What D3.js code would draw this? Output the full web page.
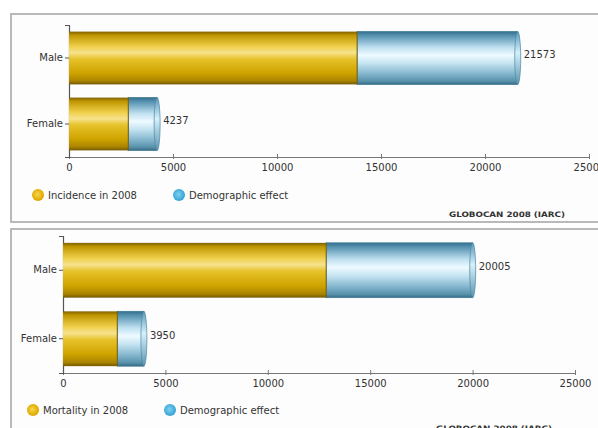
<!DOCTYPE html>
<html>
<head>
<meta charset="utf-8">
<script src="https://cdn.jsdelivr.net/npm/d3@7/dist/d3.min.js"></script>
<style>
  html, body { margin: 0; padding: 0; background: #ffffff; }
  svg { display: block; }
  text { font-family: "DejaVu Sans", Verdana, sans-serif; fill: #333; }
</style>
</head>
<body>
<svg id="chart" width="598" height="428"></svg>
<script>
// Sexes shown on each panel
const categories = ["Male", "Female"];

// Incidence panel: cases in 2008 and projected total incl. demographic effect
const incidence2008 = [13850, 2850];
const incidenceTotal = [21573, 4237];

// Mortality panel: deaths in 2008 and projected total incl. demographic effect
const mortality2008 = [12850, 2650];
const mortalityTotal = [20005, 3950];

const xTicks = [0, 5000, 10000, 15000, 20000, 25000];
const xMax = 25000;

const svg = d3.select("#chart");
const defs = svg.append("defs");

// Cylinder-style shading for the two series
function vGradient(id, stops) {
  const g = defs.append("linearGradient").attr("id", id)
    .attr("x1", 0).attr("y1", 0).attr("x2", 0).attr("y2", 1);
  stops.forEach(s => g.append("stop").attr("offset", s[0]).attr("stop-color", s[1]));
}
vGradient("gold", [
  [0, "#7f6200"], [0.07, "#bf9600"], [0.28, "#efcf4a"], [0.4, "#f6e28c"],
  [0.52, "#e6c22a"], [0.78, "#cfa400"], [0.93, "#ac8500"], [1, "#745900"]
]);
vGradient("blue", [
  [0, "#35708e"], [0.08, "#5893b1"], [0.3, "#bfe0f0"], [0.45, "#eefaff"],
  [0.6, "#c5e4f2"], [0.82, "#7db1c9"], [0.94, "#5890aa"], [1, "#366b86"]
]);
vGradient("blueCap", [
  [0, "#5a98b8"], [0.4, "#d6f0fb"], [1, "#5a94b0"]
]);
const rg1 = defs.append("radialGradient").attr("id", "legGold").attr("cx", "45%").attr("cy", "45%");
rg1.append("stop").attr("offset", 0).attr("stop-color", "#f5d84a");
rg1.append("stop").attr("offset", 1).attr("stop-color", "#e0a800");
const rg2 = defs.append("radialGradient").attr("id", "legBlue").attr("cx", "45%").attr("cy", "45%");
rg2.append("stop").attr("offset", 0).attr("stop-color", "#7fd0f0");
rg2.append("stop").attr("offset", 1).attr("stop-color", "#3aa6d8");

function panel(cfg) {
  const g = svg.append("g");

  // panel frame
  g.append("rect")
    .attr("x", cfg.frame[0]).attr("y", cfg.frame[1])
    .attr("width", cfg.frame[2]).attr("height", cfg.frame[3])
    .attr("fill", "#fdfdfd").attr("stroke", "#a8a8a8").attr("stroke-width", 1.6);

  const x = d3.scaleLinear().domain([0, xMax]).range([cfg.x0, cfg.x1]);
  const y = d3.scaleBand().domain(categories).range([cfg.yTop, cfg.yBase])
    .paddingInner(0.2).paddingOuter(0.1);

  // x axis
  const xa = g.append("g").attr("transform", `translate(0,${cfg.yBase})`)
    .call(d3.axisBottom(x).tickValues(xTicks).tickSize(0).tickPadding(7).tickFormat(d3.format("d")));
  xa.select(".domain").attr("stroke", "#777").attr("stroke-width", 1.2);
  xa.selectAll(".tick line").attr("y1", -3).attr("y2", 2).attr("stroke", "#777");
  xa.selectAll("text").attr("font-size", 10).attr("fill", "#333");

  // y axis
  const ya = g.append("g").attr("transform", `translate(${cfg.x0},0)`)
    .call(d3.axisLeft(y).tickSize(4).tickPadding(2));
  ya.select(".domain").attr("stroke", "#555").attr("stroke-width", 1.2);
  ya.selectAll(".tick line").attr("stroke", "#555");
  ya.selectAll("text").attr("font-size", 10).attr("fill", "#333");

  const rows = categories.map((c, i) => ({ c, base: cfg.base[i], total: cfg.total[i] }));
  const bw = y.bandwidth();

  // demographic effect segment with rounded end cap
  rows.forEach(r => {
    const x0 = x(r.base), x1 = x(r.total), yy = y(r.c);
    g.append("rect").attr("x", x0).attr("y", yy).attr("width", x1 - x0).attr("height", bw)
      .attr("fill", "url(#blue)").attr("stroke", "#3f7a96").attr("stroke-width", 0.8);
    g.append("ellipse").attr("cx", x1).attr("cy", yy + bw / 2).attr("rx", 3).attr("ry", bw / 2)
      .attr("fill", "url(#blueCap)").attr("stroke", "#4a86a2").attr("stroke-width", 0.7);
  });

  // 2008 segment
  rows.forEach(r => {
    g.append("rect").attr("x", x(0)).attr("y", y(r.c)).attr("width", x(r.base) - x(0)).attr("height", bw)
      .attr("fill", "url(#gold)");
    g.append("line").attr("x1", x(r.base)).attr("x2", x(r.base))
      .attr("y1", y(r.c)).attr("y2", y(r.c) + bw)
      .attr("stroke", "#6e5a10").attr("stroke-width", 0.9);
  });

  // value labels
  rows.forEach(r => {
    g.append("text").attr("x", x(r.total) + 6).attr("y", y(r.c) + bw / 2)
      .attr("font-size", 10).attr("fill", "#333").text(r.total);
  });

  // legend
  const ly = cfg.legendY;
  g.append("circle").attr("cx", cfg.leg[0]).attr("cy", ly).attr("r", 6).attr("fill", "url(#legGold)");
  g.append("text").attr("x", cfg.leg[0] + 10).attr("y", ly + 3.5).attr("font-size", 10).text(cfg.label);
  g.append("circle").attr("cx", cfg.leg[1]).attr("cy", ly).attr("r", 6).attr("fill", "url(#legBlue)");
  g.append("text").attr("x", cfg.leg[1] + 10).attr("y", ly + 3.5).attr("font-size", 10).text("Demographic effect");

  // source note
  g.append("text").attr("x", cfg.src[0]).attr("y", cfg.src[1]).attr("font-size", 7.5)
    .attr("font-weight", "bold").attr("textLength", 116).attr("lengthAdjust", "spacingAndGlyphs")
    .attr("fill", "#555").text("GLOBOCAN 2008 (IARC)");
}

panel({
  frame: [11, 14, 600, 208],
  x0: 69, x1: 589, yTop: 25, yBase: 157,
  base: incidence2008, total: incidenceTotal,
  legendY: 195, leg: [38, 179], label: "Incidence in 2008",
  src: [449, 217]
});

panel({
  frame: [11, 229, 600, 220],
  x0: 63, x1: 575, yTop: 236, yBase: 373,
  base: mortality2008, total: mortalityTotal,
  legendY: 410, leg: [33, 170], label: "Mortality in 2008",
  src: [436, 431]
});
</script>
</body>
</html>
